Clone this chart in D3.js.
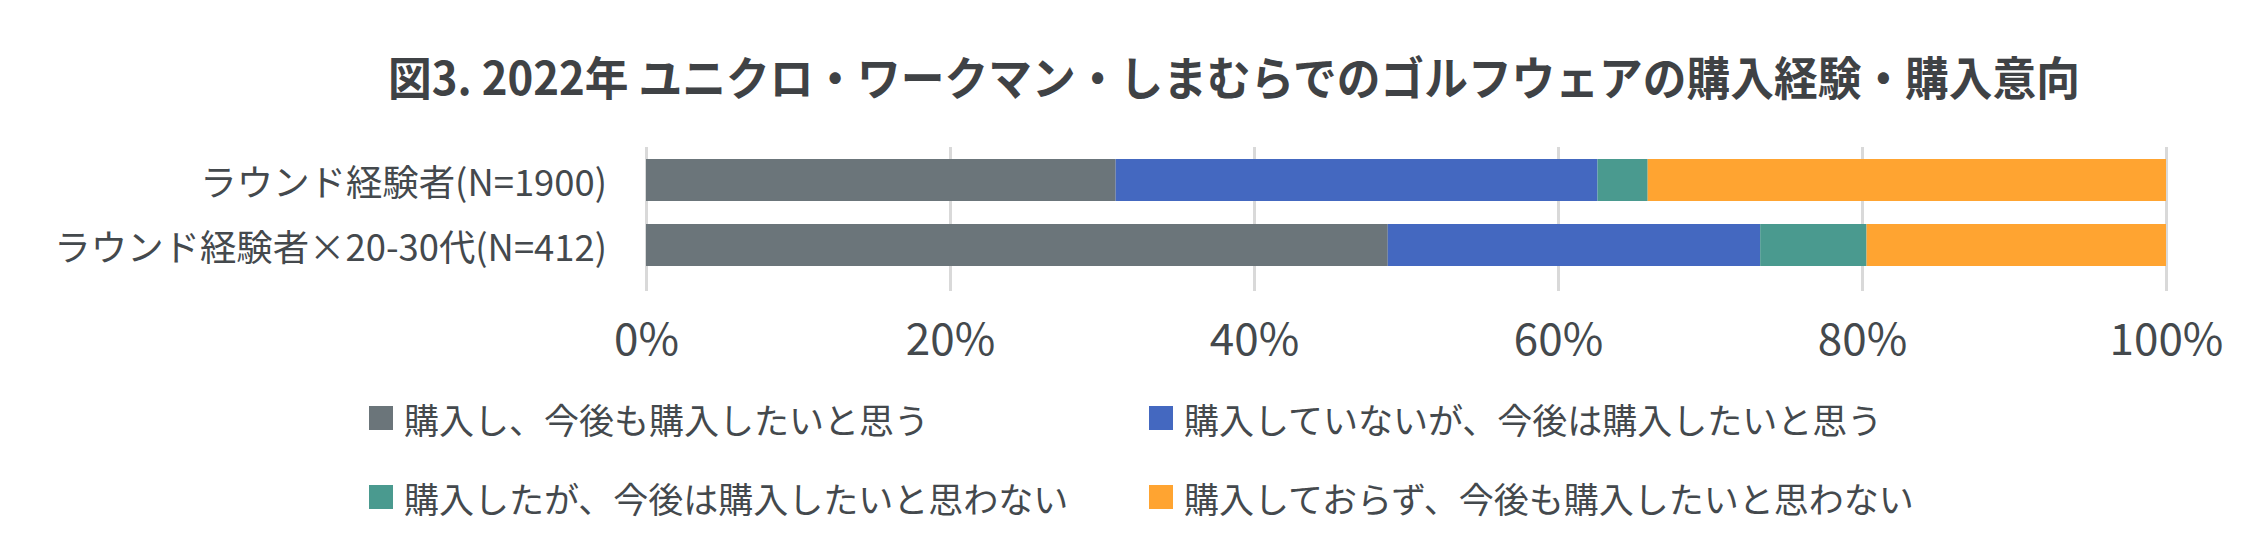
<!DOCTYPE html>
<html><head><meta charset="utf-8">
<script src="https://cdn.jsdelivr.net/npm/d3@7"></script>
<style>
html,body{margin:0;padding:0;background:#fff;}
text{font-family:"Noto Sans CJK JP","Noto Sans",sans-serif;}
</style></head>
<body><svg id="c" width="2268" height="557"></svg>
<script>
const title = "図3. 2022年 ユニクロ・ワークマン・しまむらでのゴルフウェアの購入経験・購入意向";
const categories = ["ラウンド経験者(N=1900)", "ラウンド経験者×20-30代(N=412)"];
const seriesNames = ["購入し、今後も購入したいと思う","購入していないが、今後は購入したいと思う","購入したが、今後は購入したいと思わない","購入しておらず、今後も購入したいと思わない"];
const seriesColors = ["#6b757a","#4468c0","#4a9a8f","#ffa431"];
const s1 = [30.9, 48.8];
const s2 = [31.7, 24.5];
const s3 = [3.3, 7.0];
const s4 = [34.1, 19.7];
const tickValues = [0, 0.2, 0.4, 0.6, 0.8, 1.0];

const svg = d3.select("#c");
const textColor = "#44494d";

const rows = categories.map((c,i)=>({cat:c, a:s1[i], b:s2[i], c2:s3[i], d:s4[i]}));
const keys = ["a","b","c2","d"];
const stack = d3.stack().keys(keys).offset(d3.stackOffsetExpand)(rows);

const x = d3.scaleLinear().domain([0,1]).range([646,2166]);
const y = d3.scaleBand().domain(categories).range([147.5,277.5]).paddingInner(0.354).paddingOuter(0.177);

// gridlines + tick labels
const axis = d3.axisBottom(x).tickValues(tickValues).tickFormat(d3.format(".0%")).tickSize(-144).tickPadding(0);
const ag = svg.append("g").attr("transform","translate(0,291)").call(axis);
ag.select(".domain").remove();
ag.selectAll(".tick line").attr("stroke","#d9d9d9").attr("stroke-width",3);
ag.selectAll(".tick text").attr("y",45).attr("dy","0").attr("font-size",44).attr("fill",textColor)
  .style("font-family",'"Noto Sans CJK JP","Noto Sans",sans-serif').attr("dominant-baseline","central");

// bars
svg.append("g").selectAll("g").data(stack).join("g")
  .attr("fill",(d,i)=>seriesColors[i])
  .selectAll("rect").data(d=>d).join("rect")
  .attr("x",d=>x(d[0])).attr("width",d=>x(d[1])-x(d[0]))
  .attr("y",d=>y(d.data.cat)).attr("height",y.bandwidth());

// category labels
svg.append("g").selectAll("text").data(categories).join("text")
  .attr("x",607).attr("y",d=>y(d)+y.bandwidth()/2)
  .attr("text-anchor","end").attr("dominant-baseline","central")
  .attr("font-size",36.4).attr("fill",textColor).text(d=>d);

// title
svg.append("text").attr("x",388).attr("y",75).attr("dominant-baseline","central")
  .attr("font-size",46).attr("font-weight","bold").attr("fill","#3f4245")
  .attr("textLength",1692).attr("lengthAdjust","spacingAndGlyphs").text(title);

// legend
const legPos = [[369,418],[1149,418],[369,497],[1149,497]];
const lg = svg.append("g").selectAll("g").data(seriesNames).join("g")
  .attr("transform",(d,i)=>`translate(${legPos[i][0]},${legPos[i][1]})`);
lg.append("rect").attr("x",0).attr("y",-12).attr("width",24).attr("height",24).attr("fill",(d,i)=>seriesColors[i]);
lg.append("text").attr("x",35).attr("y",0).attr("dominant-baseline","central")
  .attr("font-size",35).attr("fill",textColor).text(d=>d);
</script></body></html>
